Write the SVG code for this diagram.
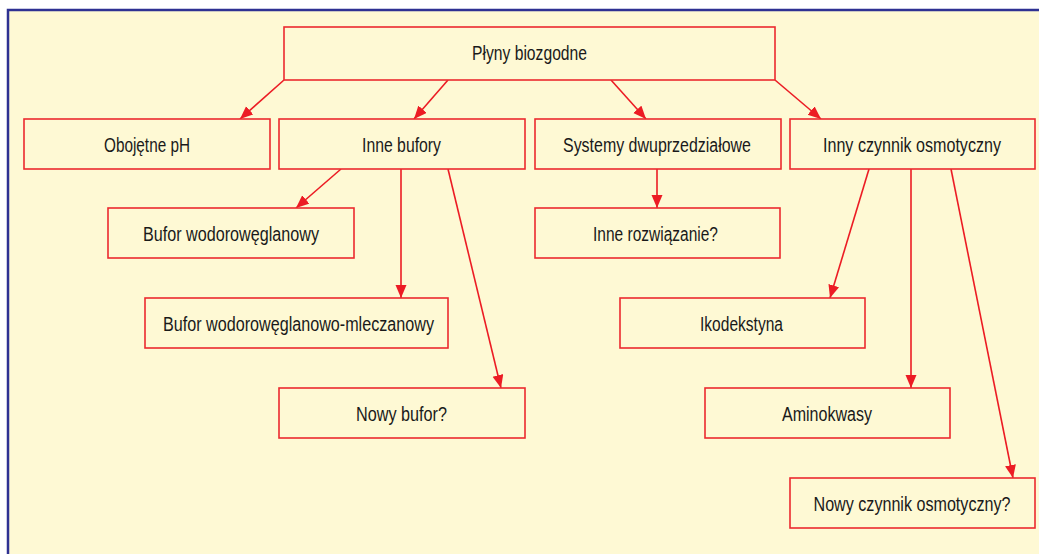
<svg xmlns="http://www.w3.org/2000/svg" width="1039" height="554" viewBox="0 0 1039 554">
<defs>
<style>
.box{fill:#fef9d4;stroke:#ec2a2e;stroke-width:1.6}
.lbl{font-family:"Liberation Sans",Arial,sans-serif;font-size:20px;fill:#1a1a1a;text-anchor:middle}
.con{stroke:#ec1c24;stroke-width:1.6;fill:none;marker-end:url(#ah)}
</style>
<marker id="ah" markerUnits="userSpaceOnUse" markerWidth="14" markerHeight="12" refX="13" refY="5.5" orient="auto">
<path d="M0,0 L13,5.5 L0,11 z" fill="#ec1c24"/>
</marker>
</defs>
<rect x="0" y="0" width="1039" height="554" fill="#ffffff"/>
<rect x="8" y="10" width="1031" height="544" fill="#fef9d4"/>
<path d="M8,554 L8,10 L1039,10" fill="none" stroke="#2e3192" stroke-width="2.5"/>
<g id="connectors">
<line class="con" x1="284" y1="80" x2="240" y2="119"/>
<line class="con" x1="448" y1="80" x2="414" y2="119"/>
<line class="con" x1="611" y1="80" x2="646" y2="119"/>
<line class="con" x1="775" y1="80" x2="821" y2="119"/>
<line class="con" x1="341" y1="169" x2="296" y2="208"/>
<line class="con" x1="401" y1="169" x2="401" y2="298"/>
<line class="con" x1="448" y1="169" x2="501" y2="388"/>
<line class="con" x1="657" y1="169" x2="657" y2="208"/>
<line class="con" x1="869" y1="169" x2="830" y2="298"/>
<line class="con" x1="911" y1="169" x2="911" y2="388"/>
<line class="con" x1="951" y1="169" x2="1013" y2="478"/>
</g>
<g id="n-plyny"><rect class="box" x="284" y="27" width="491" height="53"/><text class="lbl" x="529.5" y="60" textLength="115" lengthAdjust="spacingAndGlyphs">Płyny biozgodne</text></g>
<g id="n-obojetne"><rect class="box" x="24" y="119" width="246" height="50"/><text class="lbl" x="147" y="152" textLength="86" lengthAdjust="spacingAndGlyphs">Obojętne pH</text></g>
<g id="n-inne-bufory"><rect class="box" x="279" y="119" width="246" height="50"/><text class="lbl" x="401.5" y="152" textLength="79" lengthAdjust="spacingAndGlyphs">Inne bufory</text></g>
<g id="n-systemy"><rect class="box" x="535" y="119" width="246" height="50"/><text class="lbl" x="657" y="152" textLength="188" lengthAdjust="spacingAndGlyphs">Systemy dwuprzedziałowe</text></g>
<g id="n-inny-czynnik"><rect class="box" x="790" y="119" width="245" height="50"/><text class="lbl" x="912" y="152" textLength="178" lengthAdjust="spacingAndGlyphs">Inny czynnik osmotyczny</text></g>
<g id="n-bufor-wod"><rect class="box" x="108" y="208" width="246" height="50"/><text class="lbl" x="231" y="241" textLength="176" lengthAdjust="spacingAndGlyphs">Bufor wodorowęglanowy</text></g>
<g id="n-inne-rozw"><rect class="box" x="535" y="208" width="245" height="50"/><text class="lbl" x="655.5" y="241" textLength="125" lengthAdjust="spacingAndGlyphs">Inne rozwiązanie?</text></g>
<g id="n-bufor-wod-mlecz"><rect class="box" x="145" y="298" width="303" height="50"/><text class="lbl" x="298.5" y="331" textLength="271" lengthAdjust="spacingAndGlyphs">Bufor wodorowęglanowo-mleczanowy</text></g>
<g id="n-ikodekstyna"><rect class="box" x="620" y="298" width="245" height="50"/><text class="lbl" x="741.5" y="331" textLength="83" lengthAdjust="spacingAndGlyphs">Ikodekstyna</text></g>
<g id="n-nowy-bufor"><rect class="box" x="279" y="388" width="246" height="50"/><text class="lbl" x="401.5" y="421" textLength="91" lengthAdjust="spacingAndGlyphs">Nowy bufor?</text></g>
<g id="n-aminokwasy"><rect class="box" x="705" y="388" width="245" height="50"/><text class="lbl" x="827" y="421" textLength="90" lengthAdjust="spacingAndGlyphs">Aminokwasy</text></g>
<g id="n-nowy-czynnik"><rect class="box" x="790" y="478" width="245" height="50"/><text class="lbl" x="912" y="511" textLength="197" lengthAdjust="spacingAndGlyphs">Nowy czynnik osmotyczny?</text></g>
</svg>
